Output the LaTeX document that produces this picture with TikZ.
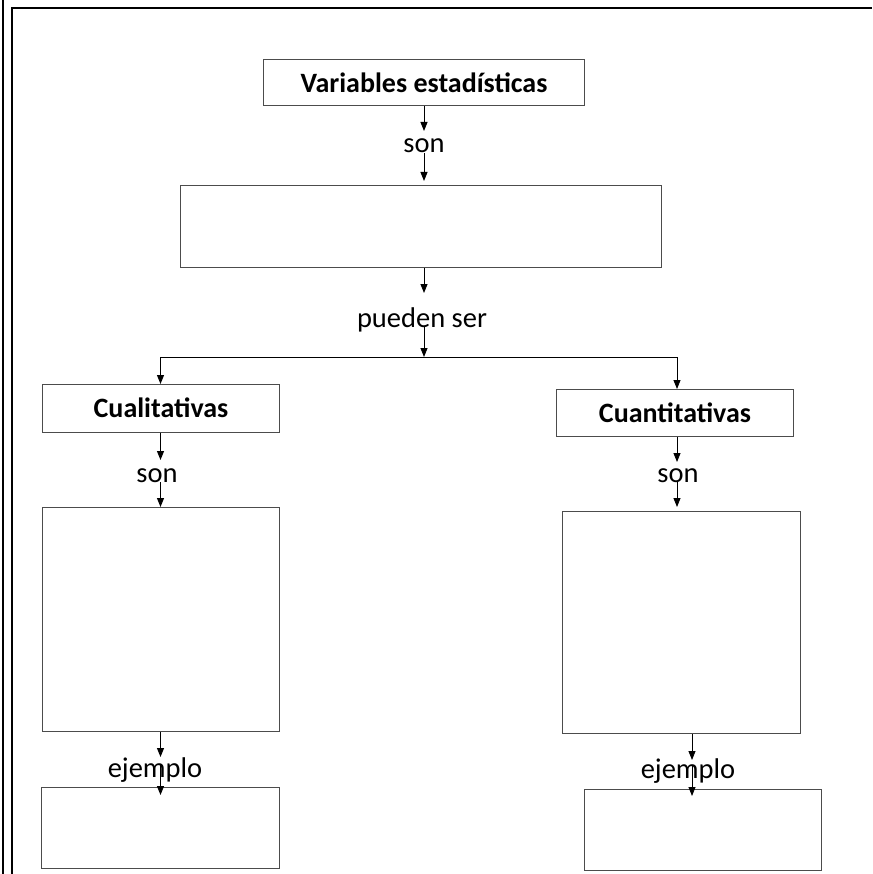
\documentclass[tikz,border=0pt]{standalone}
\usepackage{fontspec}
\setmainfont{Carlito}
\usetikzlibrary{arrows.meta}
\begin{document}
\begin{tikzpicture}[x=1pt,y=-1pt,
  box/.style={draw=black!70, line width=1pt, rectangle, inner sep=0pt, anchor=north west,
    font=\fontsize{28}{30}\selectfont\bfseries},
  lbl/.style={font=\fontsize{28.5}{30}\selectfont, anchor=base, inner sep=0pt},
  arr/.style={draw=black, line width=0.9pt, -{Triangle[length=9pt,width=7pt]}},
  plain/.style={draw=black, line width=0.9pt},
  frame/.style={line width=2pt, draw=black}]
\useasboundingbox (0,0) rectangle (872,874);
% frame
\draw[frame] (3,0) -- (3,874);
\draw[frame] (12,874) -- (12,8) -- (872,8);
% column coordinates
\coordinate (cT) at (424,0);
\coordinate (cL) at (160.5,0);
\coordinate (cR) at (677,0);
\coordinate (eR) at (692,0);
% boxes
\node[box, minimum width=321pt, minimum height=46pt] (ve) at (263,59) {Variables estadísticas};
\node[box, minimum width=481pt, minimum height=82pt] (b2) at (180,185) {};
\node[box, minimum width=237pt, minimum height=47.5pt] (cual) at (42,384) {Cualitativas};
\node[box, minimum width=237pt, minimum height=47pt] (cuan) at (556,389) {Cuantitativas};
\node[box, minimum width=237pt, minimum height=224pt] (bigL) at (42,507) {};
\node[box, minimum width=238pt, minimum height=222pt] (bigR) at (562,511) {};
\node[box, minimum width=238pt, minimum height=81pt] (exL) at (41,787) {};
\node[box, minimum width=237pt, minimum height=81pt] (exR) at (584,789) {};
% labels
\node[lbl] (son1) at (424,153) {son};
\node[lbl] (pu) at (422,327) {pueden ser};
\node[lbl] (sonL) at (157,482) {son};
\node[lbl] (sonR) at (678,482) {son};
\node[lbl] (ejL) at (155,777) {ejemplo};
\node[lbl] (ejR) at (688,778) {ejemplo};
\coordinate (split) at (424,357);
% connectors
\draw[arr, shorten >=22pt] (ve.south -| cT) -- (son1.base -| cT);
\draw[arr, shorten >=4pt] (son1.base -| cT) -- (b2.north -| cT);
\draw[arr, shorten >=34pt] (b2.south -| cT) -- (pu.base -| cT);
\draw[arr] (pu.base -| cT) -- (split);
\draw[plain] (split -| cL) -- (split -| cR);
\draw[arr] (split -| cL) -- (cual.north -| cL);
\draw[arr] (split -| cR) -- (cuan.north -| cR);
\draw[arr, shorten >=22pt] (cual.south -| cL) -- (sonL.base -| cL);
\draw[arr] (sonL.base -| cL) -- (bigL.north -| cL);
\draw[arr, shorten >=20pt] (cuan.south -| cR) -- (sonR.base -| cR);
\draw[arr, shorten >=4pt] (sonR.base -| cR) -- (bigR.north -| cR);
\draw[arr, shorten >=20pt] (bigL.south -| cL) -- (ejL.base -| cL);
\draw[arr, shorten >=-8pt] ([yshift=12pt]ejL.base -| cL) -- (exL.north -| cL);
\draw[arr, shorten >=18pt] (bigR.south -| eR) -- (ejR.base -| eR);
\draw[arr, shorten >=-7pt] ([yshift=12pt]ejR.base -| eR) -- (exR.north -| eR);
\end{tikzpicture}
\end{document}
